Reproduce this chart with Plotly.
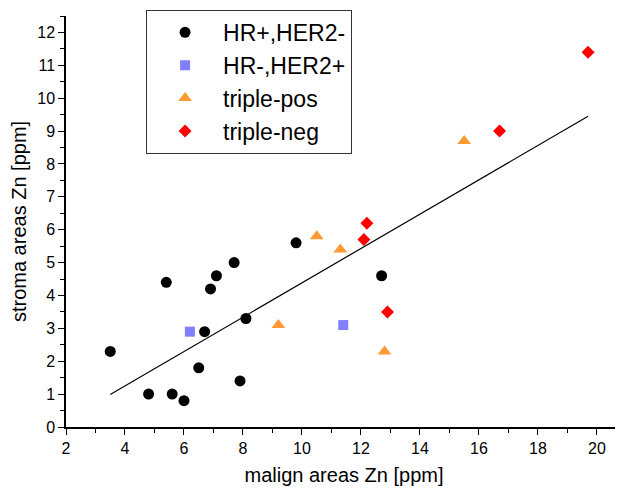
import plotly.graph_objects as go

# HR+,HER2- (black circles)
hrpos_x = [3.5, 4.8, 5.6, 6.0, 5.4, 6.7, 6.5, 6.9, 7.1, 7.7, 8.1, 7.9, 9.8, 12.7]
hrpos_y = [2.3, 1.0, 1.0, 0.8, 4.4, 2.9, 1.8, 4.2, 4.6, 5.0, 3.3, 1.4, 5.6, 4.6]

# HR-,HER2+ (blue squares)
her2_x = [6.2, 11.4]
her2_y = [2.9, 3.1]

# triple-pos (orange triangles)
tpos_x = [9.2, 10.5, 11.3, 12.8, 15.5]
tpos_y = [3.1, 5.8, 5.4, 2.3, 8.7]

# triple-neg (red diamonds)
tneg_x = [12.2, 12.1, 12.9, 16.7, 19.7]
tneg_y = [6.2, 5.7, 3.5, 9.0, 11.4]

# linear fit line endpoints
fit_x = [3.5, 19.7]
fit_y = [0.99, 9.45]

FONT = "Liberation Sans, Arial, sans-serif"

fig = go.Figure()
fig.add_trace(go.Scatter(x=fit_x, y=fit_y, mode="lines",
                         line=dict(color="black", width=1.2),
                         showlegend=False, hoverinfo="skip"))
fig.add_trace(go.Scatter(x=hrpos_x, y=hrpos_y, mode="markers", name="HR+,HER2-",
                         marker=dict(symbol="circle", size=11, color="black")))
fig.add_trace(go.Scatter(x=her2_x, y=her2_y, mode="markers", name="HR-,HER2+",
                         marker=dict(symbol="square", size=10, color="#8080FF")))
fig.add_trace(go.Scatter(x=tpos_x, y=tpos_y, mode="markers", name="triple-pos",
                         marker=dict(symbol="triangle-up", size=12, color="#FF9933")))
fig.add_trace(go.Scatter(x=tneg_x, y=tneg_y, mode="markers", name="triple-neg",
                         marker=dict(symbol="diamond", size=10, color="#FF0000")))

axis_common = dict(
    showline=True, linecolor="black", linewidth=1.5, mirror=False,
    ticks="outside", ticklen=6, tickwidth=1.2, tickcolor="black",
    showgrid=False, zeroline=False, automargin=False,
    tickfont=dict(family=FONT, size=16, color="black"),
)

fig.update_xaxes(range=[2, 20.85], dtick=2, tick0=2,
                 minor=dict(dtick=1, ticks="outside", ticklen=4, tickcolor="black", tickwidth=1.2),
                 title=dict(text="malign areas Zn [ppm]", font=dict(family=FONT, size=20, color="black"), standoff=12),
                 **axis_common)
fig.update_yaxes(range=[0, 12.5], dtick=1, tick0=0,
                 minor=dict(dtick=0.5, ticks="outside", ticklen=4, tickcolor="black", tickwidth=1.2),
                 title=dict(text="stroma areas Zn [ppm]", font=dict(family=FONT, size=20, color="black"), standoff=8),
                 **axis_common)

# page body has an 8px margin, so the figure is placed at (8, 8)
fig.update_layout(
    width=615, height=485,
    margin=dict(l=58, r=1, t=8, b=66),
    paper_bgcolor="white", plot_bgcolor="white",
    font=dict(family=FONT, color="black"),
    legend=dict(x=0.144, y=1.015, xanchor="left", yanchor="top",
                bordercolor="#333333", borderwidth=1, bgcolor="white",
                font=dict(family=FONT, size=23, color="black"),
                itemwidth=66),
    showlegend=True,
)

fig.write_html("out.html")
